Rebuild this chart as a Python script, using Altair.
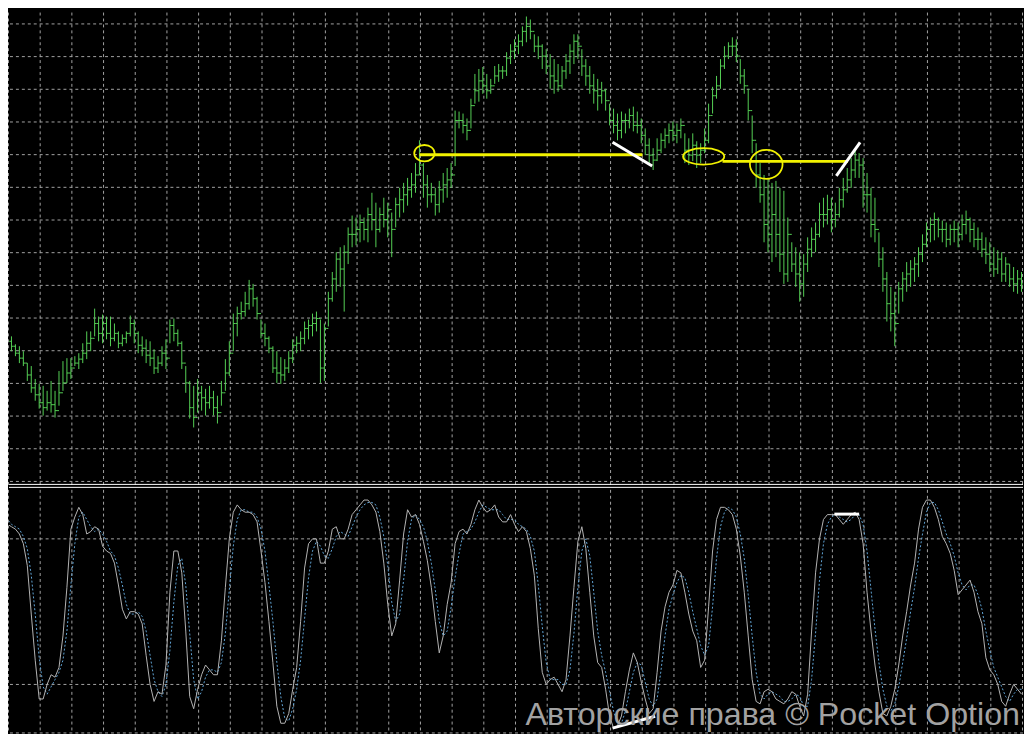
import altair as alt
import pandas as pd

# ---------------- data ----------------
# price bars (one per bar index), price in chart points
highs = [
    149, 152, 147, 139, 137, 132, 120, 117, 104, 99,
    97, 92, 102, 92, 112, 122, 125, 125, 127, 130,
    140, 152, 152, 175, 167, 169, 167, 167, 160, 152,
    149, 152, 168, 164, 152, 147, 144, 142, 134, 127,
    137, 144, 164, 165, 154, 142, 117, 102, 97, 104,
    97, 94, 97, 92, 87, 102, 124, 142, 170, 177,
    182, 192, 204, 200, 187, 164, 160, 147, 137, 132,
    126, 124, 132, 144, 147, 152, 162, 164, 170, 172,
    164, 160, 192, 212, 232, 237, 239, 257, 269, 267,
    270, 267, 277, 292, 282, 277, 287, 282, 272, 287,
    297, 302, 307, 312, 322, 345, 322, 310, 302, 297,
    304, 312, 317, 322, 375, 374, 372, 367, 387, 412,
    417, 419, 412, 407, 420, 422, 420, 434, 442, 447,
    452, 460, 470, 467, 452, 450, 442, 437, 432, 427,
    422, 420, 432, 442, 452, 452, 437, 427, 420, 412,
    407, 404, 397, 382, 377, 372, 374, 372, 377, 379,
    374, 367, 357, 347, 337, 347, 352, 357, 362, 364,
    362, 367, 352, 347, 352, 344, 342, 357, 382, 399,
    410, 427, 440, 444, 449, 447, 427, 417, 397, 370,
    342, 322, 310, 307, 302, 304, 297, 294, 267, 242,
    237, 232, 230, 247, 257, 262, 282, 287, 290, 287,
    282, 297, 307, 317, 327, 337, 332, 327, 312, 297,
    287, 252, 237, 212, 197, 192, 202, 212, 222, 224,
    227, 237, 250, 262, 267, 272, 267, 264, 262, 260,
    264, 262, 270, 274, 267, 262, 257, 252, 247, 242,
    237, 234, 232, 227, 220, 217, 214, 212,
]
lows = [
    137, 134, 132, 127, 120, 117, 102, 90, 82, 74,
    67, 72, 70, 65, 77, 92, 100, 104, 117, 114,
    120, 124, 132, 147, 142, 140, 144, 137, 142, 135,
    137, 140, 147, 140, 130, 127, 120, 117, 109, 110,
    117, 114, 140, 142, 137, 114, 90, 64, 55, 70,
    72, 67, 74, 67, 59, 77, 92, 107, 132, 147,
    164, 167, 174, 177, 164, 145, 137, 130, 110, 100,
    99, 102, 110, 120, 130, 132, 139, 144, 147, 152,
    100, 102, 157, 182, 192, 197, 172, 220, 237, 239,
    242, 244, 242, 254, 237, 252, 257, 247, 227, 257,
    267, 272, 279, 287, 292, 310, 287, 277, 282, 269,
    272, 282, 287, 297, 319, 357, 352, 345, 357, 382,
    384, 392, 387, 392, 402, 404, 407, 410, 422, 427,
    432, 440, 444, 447, 434, 427, 417, 412, 397, 392,
    394, 397, 407, 412, 422, 427, 410, 400, 392, 382,
    375, 382, 375, 360, 352, 345, 347, 352, 357, 354,
    352, 342, 330, 322, 315, 324, 332, 337, 342, 344,
    342, 347, 322, 320, 324, 317, 322, 332, 342, 372,
    387, 397, 417, 427, 430, 424, 402, 392, 365, 332,
    297, 282, 242, 232, 222, 227, 212, 200, 202, 212,
    197, 182, 187, 212, 227, 232, 247, 257, 260, 252,
    257, 267, 277, 292, 297, 307, 307, 277, 272, 247,
    242, 217, 192, 162, 152, 137, 170, 182, 192, 197,
    202, 207, 222, 237, 242, 244, 247, 242, 237, 239,
    242, 237, 244, 250, 242, 237, 234, 227, 220, 212,
    207, 210, 202, 202, 197, 192, 190, 192,
]
closes = [
    140, 142, 137, 130, 125, 120, 108, 95, 88, 80,
    75, 80, 78, 72, 90, 100, 110, 115, 120, 124,
    130, 140, 145, 160, 150, 160, 150, 145, 150, 140,
    145, 150, 160, 150, 138, 135, 128, 125, 115, 120,
    130, 125, 158, 150, 140, 120, 100, 75, 65, 90,
    85, 80, 85, 75, 70, 90, 110, 130, 160, 170,
    172, 180, 195, 185, 170, 150, 145, 135, 115, 110,
    108, 115, 125, 138, 140, 145, 155, 158, 160, 165,
    115, 155, 185, 205, 225, 215, 232, 250, 250, 255,
    262, 255, 270, 265, 255, 270, 265, 275, 255, 280,
    285, 290, 295, 300, 310, 320, 300, 290, 290, 280,
    295, 300, 305, 310, 365, 365, 360, 355, 380, 395,
    405, 400, 395, 400, 410, 415, 415, 428, 435, 440,
    445, 455, 460, 455, 440, 440, 430, 420, 410, 405,
    400, 415, 425, 435, 445, 440, 420, 410, 400, 395,
    390, 395, 385, 365, 360, 355, 365, 365, 370, 360,
    360, 350, 340, 330, 325, 335, 345, 350, 355, 350,
    355, 360, 335, 330, 340, 330, 335, 345, 370, 390,
    400, 420, 430, 440, 440, 430, 410, 400, 375, 345,
    310, 290, 260, 250, 270, 250, 230, 210, 250, 220,
    210, 200, 220, 235, 245, 250, 270, 270, 275, 265,
    270, 285, 295, 305, 315, 325, 320, 290, 290, 260,
    255, 225, 205, 180, 170, 160, 195, 205, 210, 215,
    220, 230, 240, 255, 260, 265, 255, 255, 245, 255,
    255, 250, 260, 265, 255, 245, 245, 235, 230, 220,
    215, 225, 210, 220, 205, 200, 205, 200,
]
first_open = 145

# stochastic oscillator (%K main, %D signal)
stoch_k = [
    88, 86, 85, 84, 82, 78, 69, 49, 30, 14,
    14, 20, 24, 23, 27, 40, 60, 84, 89, 93,
    90, 82, 83, 85, 84, 77, 75, 74, 70, 61,
    51, 47, 50, 50, 49, 45, 32, 20, 13, 17,
    16, 28, 58, 75, 75, 66, 42, 15, 10, 18,
    24, 28, 26, 24, 24, 38, 60, 80, 91, 94,
    92, 91, 91, 90, 87, 75, 62, 46, 29, 11,
    4, 4, 8, 18, 27, 46, 68, 78, 80, 80,
    70, 70, 75, 84, 85, 80, 80, 84, 90, 92,
    94, 96, 96, 94, 91, 83, 70, 53, 40, 45,
    63, 82, 92, 89, 90, 86, 79, 71, 60, 46,
    33, 40, 53, 62, 78, 83, 84, 82, 86, 92,
    96, 93, 91, 92, 94, 89, 87, 87, 90, 86,
    83, 85, 83, 76, 65, 43, 25, 20, 22, 23,
    20, 17, 22, 40, 60, 79, 85, 76, 58, 40,
    29, 27, 18, 7, 2, 3, 7, 17, 26, 33,
    29, 21, 14, 8, 10, 25, 42, 52, 58, 61,
    67, 66, 58, 49, 42, 38, 27, 30, 52, 75,
    88, 93, 93, 92, 90, 84, 73, 58, 40, 22,
    13, 12, 17, 18, 17, 14, 13, 12, 14, 17,
    16, 11, 7, 16, 42, 66, 80, 88, 90, 90,
    90, 88, 86, 88, 90, 91, 88, 78, 58, 42,
    28, 17, 8, 7, 11, 18, 28, 40, 50, 61,
    70, 84, 93, 96, 96, 93, 88, 81, 78, 74,
    67, 57, 59, 61, 63, 58, 50, 45, 31, 26,
    24, 20, 13, 11, 16, 20, 18, 16,
]
stoch_d = [
    90, 88, 86, 85, 84, 81, 76, 65, 49, 31,
    19, 16, 19, 22, 25, 30, 42, 61, 78, 89,
    91, 88, 85, 83, 84, 82, 79, 75, 73, 68,
    61, 53, 49, 49, 50, 48, 42, 32, 22, 17,
    15, 20, 34, 54, 69, 72, 61, 41, 22, 14,
    17, 23, 26, 26, 25, 29, 41, 59, 77, 88,
    92, 92, 91, 91, 89, 84, 75, 61, 46, 29,
    15, 6, 5, 10, 18, 30, 47, 64, 75, 79,
    77, 73, 72, 76, 81, 83, 82, 81, 85, 89,
    92, 94, 95, 95, 94, 89, 81, 69, 54, 46,
    49, 63, 79, 88, 90, 88, 85, 79, 70, 59,
    46, 40, 42, 52, 64, 74, 82, 83, 84, 87,
    91, 94, 93, 92, 92, 92, 90, 88, 88, 88,
    86, 85, 84, 81, 75, 61, 44, 29, 22, 22,
    22, 20, 20, 26, 41, 60, 75, 80, 73, 58,
    42, 32, 25, 17, 9, 4, 4, 9, 17, 25,
    29, 28, 21, 14, 11, 14, 26, 40, 51, 57,
    62, 65, 64, 58, 50, 43, 36, 32, 36, 52,
    72, 85, 91, 93, 92, 89, 82, 72, 57, 40,
    25, 16, 14, 16, 17, 16, 15, 13, 13, 14,
    16, 15, 11, 11, 22, 41, 63, 78, 86, 89,
    90, 89, 88, 87, 88, 90, 90, 86, 75, 59,
    43, 29, 18, 11, 9, 12, 19, 29, 39, 50,
    60, 72, 82, 91, 95, 95, 92, 87, 82, 78,
    73, 66, 61, 59, 61, 61, 57, 51, 42, 34,
    27, 23, 19, 15, 13, 16, 18, 18,
]

# grid positions (bar index / price / stochastic levels)
grid_bars = [1.25 + 8 * k for k in range(33)]
grid_price = [462.5 - 33 * k for k in range(15)]
grid_stoch = [80, 20, 0]
separator_levels = [-2.5, -5.5]

# annotations (bar index, price)
yellow_x1 = [105.0, 181.5]
yellow_x2 = [161.3, 213.2]
yellow_p = [330.5, 323.7]
ring_a = (106.25, 332.0)
ring_b = (176.75, 328.7)
ring_c = (192.55, 320.7)
white_x1 = [153.75, 210.25]
white_x2 = [163.75, 216.25]
white_p1 = [343.0, 309.0]
white_p2 = [319.0, 343.0]
stoch_mark_x1 = [209.75, 153.75]
stoch_mark_x2 = [216.0, 164.5]
stoch_mark_v1 = [90.2, 2.0]
stoch_mark_v2 = [90.2, 6.9]
watermark = "Авторские права © Pocket Option"
watermark_pos = (256.6, 3.1)

# ---------------- tables ----------------
n = len(highs)
idx = list(range(n))
opens = [first_open] + closes[:-1]
ohlc = pd.DataFrame({"i": idx, "open": opens, "high": highs, "low": lows, "close": closes})
stoch = pd.DataFrame({"i": idx * 2, "v": stoch_k + stoch_d,
                      "s": ["K"] * n + ["D"] * n})

# ---------------- styling ----------------
W = 1024
H1 = 480
H2 = 246
GRID = "#a3a3a3"
GREEN = "#55d055"
YELLOW = "#f2f200"

xs = alt.Scale(domain=[1.375, 257.375], nice=False, zero=False)
ys1 = alt.Scale(domain=[-6, 474], nice=False, zero=False)
ys2 = alt.Scale(domain=[-0.2, 100.2], nice=False, zero=False)


def X(f):
    return alt.X(f, type="quantitative", scale=xs, axis=None)


def Y1(f):
    return alt.Y(f, type="quantitative", scale=ys1, axis=None)


def Y2(f):
    return alt.Y(f, type="quantitative", scale=ys2, axis=None)


def ellipse(ratio):
    return f"M -1 0 A 1 {ratio} 0 1 1 1 0 A 1 {ratio} 0 1 1 -1 0 Z"


# ---------------- upper panel ----------------
vgrid1 = alt.Chart(pd.DataFrame({"i": grid_bars})).mark_rule(
    color=GRID, strokeDash=[3, 3], strokeWidth=1).encode(x=X("i"))
hgrid1 = alt.Chart(pd.DataFrame({"p": grid_price})).mark_rule(
    color=GRID, strokeDash=[3, 3], strokeWidth=1).encode(y=Y1("p"))
sep = alt.Chart(pd.DataFrame({"p": separator_levels})).mark_rule(
    color="white", strokeWidth=1).encode(y=Y1("p"))

bars = alt.Chart(ohlc).mark_rule(color=GREEN, strokeWidth=1, clip=True).encode(
    x=X("i"), y=Y1("low"), y2=alt.Y2("high"))
open_t = alt.Chart(ohlc).mark_rule(color=GREEN, strokeWidth=1, xOffset=-2, x2Offset=0, clip=True).encode(
    x=X("i"), x2=alt.X2("i"), y=Y1("open"))
close_t = alt.Chart(ohlc).mark_rule(color=GREEN, strokeWidth=1, xOffset=0, x2Offset=2, clip=True).encode(
    x=X("i"), x2=alt.X2("i"), y=Y1("close"))

ylines = alt.Chart(pd.DataFrame({"x1": yellow_x1, "x2": yellow_x2, "p": yellow_p})).mark_rule(
    color=YELLOW, strokeWidth=3).encode(x=X("x1"), x2=alt.X2("x2"), y=Y1("p"))


def ring(pos, ratio, size, width):
    return alt.Chart(pd.DataFrame({"i": [pos[0]], "p": [pos[1]]})).mark_point(
        shape=ellipse(ratio), size=size, filled=False, color=YELLOW,
        strokeWidth=width, opacity=1).encode(x=X("i"), y=Y1("p"))


r1 = ring(ring_a, 0.8, 424, 1.8)
r2 = ring(ring_b, 0.4, 1731, 1.8)
r3 = ring(ring_c, 0.89, 1089, 1.8)

wlines = alt.Chart(pd.DataFrame({"x1": white_x1, "x2": white_x2, "p1": white_p1, "p2": white_p2})).mark_rule(
    color="white", strokeWidth=3).encode(x=X("x1"), x2=alt.X2("x2"), y=Y1("p1"), y2=alt.Y2("p2"))

upper = alt.layer(vgrid1, hgrid1, sep, bars, open_t, close_t, ylines, r1, r2, r3, wlines).properties(
    width=W, height=H1)

# ---------------- lower panel ----------------
vgrid2 = alt.Chart(pd.DataFrame({"i": grid_bars})).mark_rule(
    color=GRID, strokeDash=[3, 3], strokeWidth=1).encode(x=X("i"))
hgrid2 = alt.Chart(pd.DataFrame({"v": grid_stoch})).mark_rule(
    color=GRID, strokeDash=[3, 3], strokeWidth=1).encode(y=Y2("v"))

d_line = alt.Chart(stoch).transform_filter(alt.datum.s == "D").mark_line(
    color="#62a6d8", strokeWidth=1, strokeDash=[2, 2], clip=True).encode(x=X("i"), y=Y2("v"))
k_line = alt.Chart(stoch).transform_filter(alt.datum.s == "K").mark_line(
    color="#b4b4b4", strokeWidth=1, clip=True).encode(x=X("i"), y=Y2("v"))

smarks = alt.Chart(pd.DataFrame({"x1": stoch_mark_x1, "x2": stoch_mark_x2,
                                 "v1": stoch_mark_v1, "v2": stoch_mark_v2})).mark_rule(
    color="white", strokeWidth=3).encode(x=X("x1"), x2=alt.X2("x2"), y=Y2("v1"), y2=alt.Y2("v2"))

wm = alt.Chart(pd.DataFrame({"i": [watermark_pos[0]], "v": [watermark_pos[1]], "t": [watermark]})).mark_text(
    align="right", baseline="alphabetic", font="Liberation Sans", fontSize=32.5,
    color="#a2a2a2").encode(x=X("i"), y=Y2("v"), text="t:N")

lower = alt.layer(vgrid2, hgrid2, d_line, k_line, smarks, wm).properties(width=W, height=H2)

chart = alt.vconcat(upper, lower, spacing=0).properties(
    background="#000000", padding=0
).configure_view(stroke=None)

chart.save("out.html", embed_options={"renderer": "svg", "actions": False})
